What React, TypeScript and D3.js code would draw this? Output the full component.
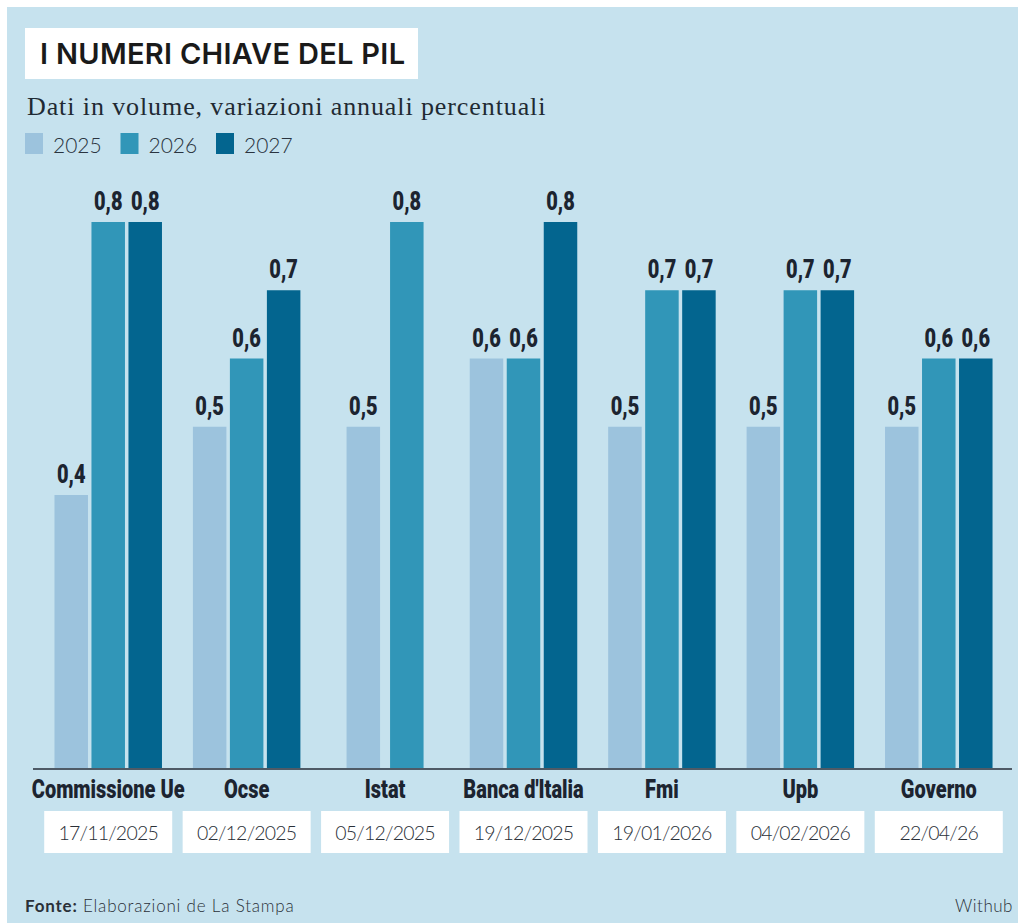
import React from "react";
import * as d3 from "d3";

const categories = ["Commissione Ue", "Ocse", "Istat", "Banca d'Italia", "Fmi", "Upb", "Governo"];
const dates = ["17/11/2025", "02/12/2025", "05/12/2025", "19/12/2025", "19/01/2026", "04/02/2026", "22/04/26"];
const seriesKeys = ["2025", "2026", "2027"];
const values2025: (number | null)[] = [0.4, 0.5, 0.5, 0.6, 0.5, 0.5, 0.5];
const values2026: (number | null)[] = [0.8, 0.6, 0.8, 0.6, 0.7, 0.7, 0.6];
const values2027: (number | null)[] = [0.8, 0.7, null, 0.8, 0.7, 0.7, 0.6];
const seriesValues = [values2025, values2026, values2027];
const colors = ["#9cc3dd", "#3196b8", "#03658f"];

const fmt = (v: number) => v.toFixed(1).replace(".", ",");

const CONDENSED = "Roboto, sans-serif";
const GEO = "Lato, 'Open Sans', sans-serif";
const SQUEEZE = 0.8;

export default function App() {
  const x = d3.scaleBand<string>().domain(categories).range([39, 1008]).padding(0);
  const y = d3.scaleLinear().domain([0, 0.8]).range([768, 222]);
  const barW = 33.5;

  const bars: JSX.Element[] = [];
  const labels: JSX.Element[] = [];
  categories.forEach((c, ci) => {
    const present = seriesKeys.filter((_, si) => seriesValues[si][ci] != null);
    const n = present.length;
    const step = n === 3 ? 37 : 43.5;
    const p = 1 - barW / step;
    const W = step * (n - p);
    const cx = (x(c) as number) + x.bandwidth() / 2;
    const inner = d3.scaleBand<string>().domain(present).range([cx - W / 2, cx + W / 2]).paddingInner(p).paddingOuter(0);
    present.forEach((k) => {
      const si = seriesKeys.indexOf(k);
      const v = seriesValues[si][ci] as number;
      const bx = inner(k) as number;
      bars.push(
        <rect key={`b-${c}-${k}`} x={bx} y={y(v)} width={inner.bandwidth()} height={y(0) - y(v)} fill={colors[si]} />
      );
      labels.push(
        <text key={`l-${c}-${k}`} transform={`translate(${bx + inner.bandwidth() / 2},${y(v) - 12}) scale(${SQUEEZE},1)`} textAnchor="middle"
          fontFamily={CONDENSED} fontWeight={900} fontSize={25} fill="#1c2430">{fmt(v)}</text>
      );
    });
  });

  return (
    <svg width={1018} height={923} style={{ position: "absolute", left: 0, top: 0 }}>
      <rect x={0} y={0} width={1018} height={923} fill="#ffffff" />
      <rect x={7} y={7} width={1011} height={916} fill="#c6e2ee" />
      <rect x={25} y={28} width={393} height={51} fill="#ffffff" />
      <text x={40} y={64} fontFamily="Inter, sans-serif" fontWeight={600} fontSize={29} letterSpacing={0.3} fill="#1a1a1a">I NUMERI CHIAVE DEL PIL</text>
      <text x={27} y={115} fontFamily="'Liberation Serif', serif" fontSize={26} letterSpacing={0.9} fill="#1f2a33">Dati in volume, variazioni annuali percentuali</text>
      {seriesKeys.map((k, i) => {
        const lx = 25 + i * 95.5;
        return (
          <g key={`lg-${k}`}>
            <rect x={lx} y={133} width={18} height={21} fill={colors[i]} />
            <text x={lx + 28} y={153} fontFamily={GEO} fontWeight={300} fontSize={21} fill="#2a3440">{k}</text>
          </g>
        );
      })}
      {bars}
      {labels}
      <line x1={33} x2={1012} y1={769} y2={769} stroke="#4e5a66" strokeWidth={2} />
      {categories.map((c, i) => {
        const cx = (x(c) as number) + x.bandwidth() / 2;
        return (
          <g key={`c-${c}`}>
            <text transform={`translate(${cx},798) scale(${SQUEEZE},1)`} textAnchor="middle" fontFamily={CONDENSED} fontWeight={900} fontSize={25} fill="#1c2430">{c}</text>
            <rect x={cx - 64} y={811} width={128} height={42} fill="#ffffff" />
            <text x={cx} y={840} textAnchor="middle" fontFamily={GEO} fontWeight={300} fontSize={19.5} letterSpacing={-0.8} fill="#2a3038">{dates[i]}</text>
          </g>
        );
      })}
      <text x={25} y={912} fontFamily={GEO} fontSize={17} letterSpacing={0.8} fill="#2a3038">
        <tspan fontWeight={700}>Fonte:</tspan>
        <tspan fontWeight={300}> Elaborazioni de La Stampa</tspan>
      </text>
      <text x={1013} y={912} textAnchor="end" fontFamily={GEO} fontWeight={300} fontSize={17} letterSpacing={0.5} fill="#2a3038">Withub</text>
    </svg>
  );
}
